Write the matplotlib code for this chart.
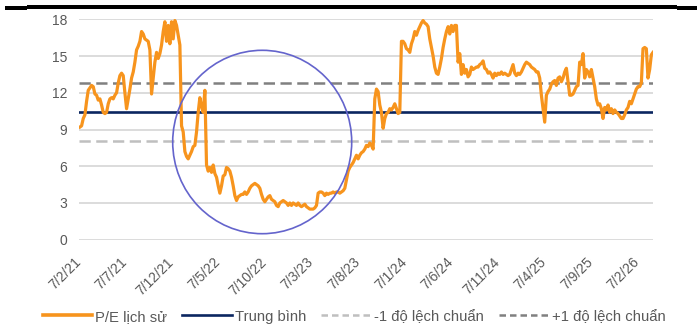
import matplotlib
matplotlib.use("Agg")
import matplotlib.pyplot as plt
from matplotlib.lines import Line2D
from matplotlib.patches import Ellipse, Rectangle
import pandas as pd

plt.rcParams['font.family'] = ['Liberation Sans', 'DejaVu Sans']

# Historical P/E, one list per year of observations (Feb -> Jan)
pe_2021 = [9.2, 9.3, 9.9, 10.2, 11.3, 12.2, 12.4, 12.6, 12.5, 11.9, 11.8, 11.4, 11.5,
           11.0, 10.4, 10.3, 10.4, 11.1, 11.5, 11.6, 11.5, 11.8, 12.0, 12.8, 13.4,
           13.6, 13.4, 12.0, 10.7, 11.5, 12.3, 13.2, 13.7, 14.5, 15.5, 15.8, 16.2,
           17.0, 16.8, 16.4, 16.3, 16.2, 15.5, 11.9, 13.2, 14.5, 15.3, 14.8, 15.2,
           15.9, 17.0, 17.8, 16.2, 17.5, 16.0, 17.8, 16.4, 17.9, 17.5, 16.7, 15.9,
           9.3, 8.8, 7.2, 6.8, 6.6]
pe_2022 = [6.9, 7.2, 7.6, 7.7, 8.8, 10.4, 11.6, 10.9, 10.4, 12.2, 6.1, 5.6, 5.9,
           5.5, 6.1, 5.4, 5.1, 4.4, 3.8, 4.4, 5.2, 5.3, 5.9, 5.8, 5.6, 5.1, 4.4,
           3.6, 3.2, 3.5, 3.6, 3.7, 3.7, 3.9, 3.7, 3.9, 4.2, 4.4, 4.5, 4.6, 4.5,
           4.4, 4.2, 3.7, 3.3, 3.1, 3.3, 3.5, 3.6, 3.3, 3.2, 3.1, 2.8, 2.7, 3.0,
           3.1, 3.2, 3.1, 3.0, 2.8, 3.0, 2.8, 3.0, 2.9, 2.8, 3.0, 2.8, 2.7, 2.8]
pe_2023 = [2.9, 2.7, 2.6, 2.5, 2.5, 2.5, 2.6, 2.8, 3.8, 3.9, 3.9, 3.8, 3.6, 3.8,
           3.7, 3.8, 3.8, 3.9, 3.8, 3.9, 3.9, 3.8, 3.9, 4.0, 4.2, 4.9, 5.6, 5.9,
           6.1, 6.3, 6.6, 6.9, 6.6, 6.9, 7.1, 7.2, 7.4, 7.7, 7.6, 7.9, 7.7, 7.4,
           11.5, 12.3, 12.1, 11.0, 10.4, 9.1, 9.9, 10.3, 10.4, 10.7, 10.6, 10.8,
           11.1, 10.7, 10.3, 10.4, 16.2, 16.2, 16.0, 15.6, 15.5, 15.3, 16.0, 16.4,
           17.0, 16.7, 17.1]
pe_2024 = [17.4, 17.7, 17.9, 17.7, 17.6, 17.4, 16.4, 15.7, 15.0, 14.1, 13.6, 13.5,
           14.1, 14.8, 15.7, 16.4, 17.0, 17.4, 16.8, 17.5, 17.0, 17.5, 17.5, 14.5,
           15.2, 13.5, 14.3, 13.6, 13.9, 13.3, 13.5, 14.1, 13.9, 14.0, 14.1, 14.1,
           14.3, 14.4, 14.6, 14.0, 13.9, 13.6, 13.7, 13.5, 13.2, 13.6, 13.4, 13.6,
           13.5, 13.7, 13.5, 13.6, 13.5, 13.4, 13.5, 13.9, 14.3, 13.6, 13.4, 13.6,
           13.5, 13.7, 14.0, 14.3, 14.5, 14.4, 14.3, 14.1, 14.0]
pe_2025 = [13.9, 13.7, 13.7, 13.2, 11.8, 10.7, 9.6, 11.8, 12.1, 12.3, 12.7, 12.9,
           13.0, 12.6, 13.2, 13.3, 12.9, 13.2, 13.7, 14.0, 12.9, 11.8, 11.8, 11.9,
           12.2, 12.5, 12.6, 14.5, 14.3, 15.2, 13.2, 13.9, 13.7, 13.3, 13.9, 13.2,
           12.5, 11.5, 11.0, 11.1, 10.7, 9.9, 10.8, 10.6, 11.0, 10.4, 10.7, 10.3,
           10.6, 10.4, 10.3, 10.1, 9.9, 9.9, 10.2, 10.6, 10.8, 11.3, 11.1, 11.5,
           11.9, 12.3, 12.5, 12.5, 12.8, 15.6, 15.7, 15.6, 13.2, 13.9, 15.1, 15.3]

pe = pe_2021 + pe_2022 + pe_2023 + pe_2024 + pe_2025
dates = pd.date_range('2021-02-10', '2026-03-30', periods=len(pe))

pe_mean = 10.45
pe_std = 2.35

axis_start = pd.Timestamp('2021-02-07')
axis_end = pd.Timestamp('2026-03-30')
tick_dates = [axis_start + pd.DateOffset(months=5 * k) for k in range(13)]
tick_labels = [f"{d.day}/{d.month}/{d.year % 100}" for d in tick_dates]
y_ticks = [0, 3, 6, 9, 12, 15, 18]

legend_labels = ['P/E lịch sử', 'Trung bình', '-1 độ lệch chuẩn', '+1 độ lệch chuẩn']

c_pe = '#F7941D'
c_mean = '#0B2660'
c_low = '#BFBFBF'
c_high = '#808080'
c_grid = '#D9D9D9'
c_text = '#595959'

W, H = 697, 329
fig = plt.figure(figsize=(W / 100, H / 100), dpi=100)
ax = fig.add_axes([79 / W, 1 - 239.7 / H, (653 - 79) / W, (239.7 - 19.3) / H])

dash = (4.5, 2.2)
ax.axhline(pe_mean - pe_std, color=c_low, lw=1.8, dashes=dash, zorder=2)
ax.axhline(pe_mean + pe_std, color=c_high, lw=1.8, dashes=dash, zorder=2)
ax.axhline(pe_mean, color=c_mean, lw=1.9, zorder=3)
ax.plot(dates, pe, color=c_pe, lw=2.3, solid_joinstyle='round', zorder=4)

ax.set_ylim(0, 18)
ax.set_xlim(axis_start, axis_end)
ax.set_yticks(y_ticks)
ax.set_yticklabels([str(v) for v in y_ticks])
ax.set_xticks(tick_dates)
ax.set_xticklabels(tick_labels, rotation=45, ha='right', va='center',
                   rotation_mode='anchor')
ax.grid(axis='y', color=c_grid, lw=1.3, zorder=0)
ax.set_axisbelow(True)
for s in ax.spines.values():
    s.set_visible(False)
ax.tick_params(axis='both', length=0, colors=c_text, labelsize=10)
ax.tick_params(axis='y', pad=8.5)
ax.tick_params(axis='x', pad=14.5)

# Highlight circle around the 2022-2023 trough
fig.patches.append(Ellipse((262.2 / W, 1 - 142 / H), 179 / W, 183.4 / H,
                           transform=fig.transFigure, fill=False,
                           edgecolor='#6464CC', lw=1.2, zorder=10))

# Header rule across the top
for x0, x1, y0, y1 in [(5, 27, 6, 10), (27, 677, 5, 8.5), (677, 697, 6, 10)]:
    fig.patches.append(Rectangle((x0 / W, 1 - y1 / H), (x1 - x0) / W, (y1 - y0) / H,
                                 transform=fig.transFigure, color='black', lw=0))

handles = [
    Line2D([], [], color=c_pe, lw=2.6),
    Line2D([], [], color=c_mean, lw=1.9),
    Line2D([], [], color=c_low, lw=1.8, dashes=(2.6, 1.6)),
    Line2D([], [], color=c_high, lw=1.8, dashes=(2.6, 1.6)),
]
fig.legend(handles, legend_labels, loc='center', ncol=4, frameon=False,
           bbox_to_anchor=(354 / W, 1 - 316.7 / H), fontsize=10.7,
           handlelength=3.35, handletextpad=0.2, columnspacing=1.0,
           labelcolor=c_text, borderaxespad=0, borderpad=0)

fig.savefig('out.png', dpi=100)
